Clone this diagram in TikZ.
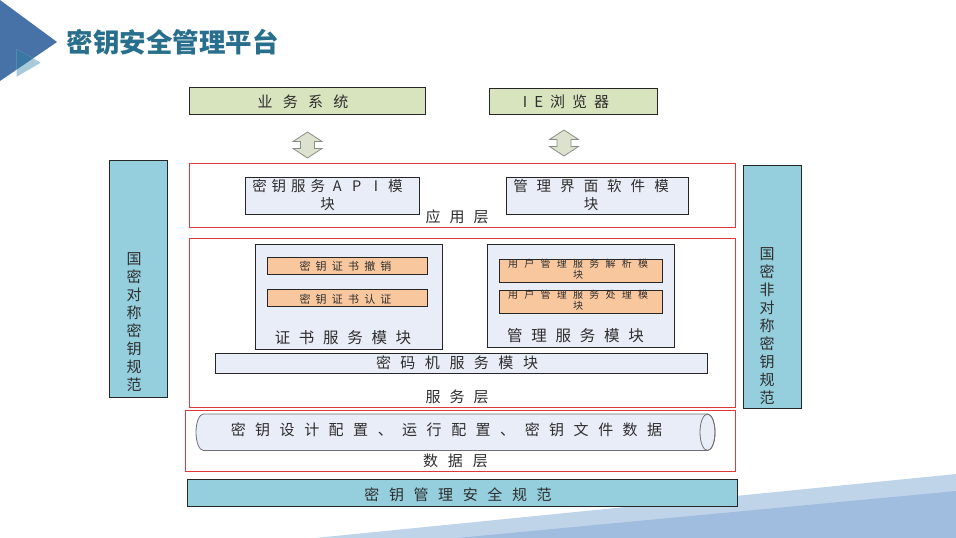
\documentclass[tikz,border=0pt]{standalone}
\usepackage{fontspec}
\setmainfont{Noto Sans CJK SC}
\definecolor{tri}{HTML}{4672A8}
\definecolor{trilight}{HTML}{A8CBD9}
\definecolor{trimid}{HTML}{3A78A3}
\definecolor{titlec}{HTML}{276F8C}
\definecolor{greenfill}{HTML}{D7E4BD}
\definecolor{modfill}{HTML}{E9EDF7}
\definecolor{peach}{HTML}{F8C79E}
\definecolor{cyanfill}{HTML}{95CEDC}
\definecolor{layerred}{HTML}{E0383C}
\definecolor{boxline}{HTML}{262626}
\definecolor{arrowfill}{HTML}{DCE2CE}
\definecolor{arrowline}{HTML}{8A8F86}
\definecolor{bglight}{HTML}{C0D4E9}
\definecolor{bgdark}{HTML}{A0BDE0}
\definecolor{txtc}{HTML}{2E2E2E}
\definecolor{cylline}{HTML}{707070}
\makeatletter
\newcommand\chpitch[2]{\@tfor\chp@c:=#2\do{\makebox[#1pt][c]{\chp@c}}}
\newcommand\chgap[2]{\def\chg@s{}\@tfor\chg@c:=#2\do{\chg@s\chg@c\def\chg@s{\hspace{#1pt}}}}
\makeatother
\tikzset{
  box/.style={draw=boxline, line width=1pt, inner sep=0pt, outer sep=0pt},
  layer/.style={draw=layerred, line width=0.9pt, inner sep=0pt, outer sep=0pt},
  txt/.style={inner sep=0pt, text=txtc, font=\fontsize{15}{18}\selectfont},
  dblarrow/.style={fill=arrowfill, draw=arrowline, line width=0.8pt, line join=miter},
}
\begin{document}
\begin{tikzpicture}[x=1pt, y=-1pt]
\useasboundingbox (0,0) rectangle (956,538);
% background decorations
\fill[tri] (0,0) -- (57,42) -- (0,81) -- cycle;
\fill[trilight] (16.7,49) -- (40.7,62.7) -- (16.7,76.7) -- cycle;
\begin{scope}
  \clip (0,0) -- (57,42) -- (0,81) -- cycle;
  \fill[trimid] (16.7,49) -- (40.7,62.7) -- (16.7,76.7) -- cycle;
\end{scope}
\fill[bglight] (315,538) -- (956,474) -- (956,538) -- cycle;
\fill[bgdark] (457,538) -- (956,491) -- (956,538) -- cycle;
% title
\node[anchor=west, inner sep=0pt, text=titlec, font=\fontsize{26.5}{30}\selectfont\bfseries] (title) at (66.5,42) {密钥安全管理平台};
% top boxes
\node[box, fill=greenfill, minimum width=236pt, minimum height=27pt] (biz) at (307,100.5) {};
\node[txt] (tbiz) at (303,102) {\chpitch{25.3}{业务系统}};
\node[box, fill=greenfill, minimum width=168pt, minimum height=26pt] (ie) at (573,101) {};
\node[txt] (tie) at (566,102) {\chgap{7}{IE浏览器}};
% double arrows
\begin{scope}[shift={(307.5,145)}]
  \draw[dblarrow] (0,-13) -- (14.5,-3.5) -- (7,-3.5) -- (7,3.5) -- (14.5,3.5) -- (0,13) -- (-14.5,3.5) -- (-7,3.5) -- (-7,-3.5) -- (-14.5,-3.5) -- cycle;
\end{scope}
\begin{scope}[shift={(564,143)}]
  \draw[dblarrow] (0,-13) -- (14.5,-3.5) -- (7,-3.5) -- (7,3.5) -- (14.5,3.5) -- (0,13) -- (-14.5,3.5) -- (-7,3.5) -- (-7,-3.5) -- (-14.5,-3.5) -- cycle;
\end{scope}
% application layer
\node[layer, minimum width=546pt, minimum height=64pt] (app) at (462,195) {};
\node[box, fill=modfill, minimum width=174pt, minimum height=37pt] (api) at (332,195.7) {};
\node[txt, align=center, font=\fontsize{14.5}{18}\selectfont] (tapi) at (327.5,195) {\chpitch{19.4}{密钥服务API模}\\块};
\node[box, fill=modfill, minimum width=182pt, minimum height=37pt] (ui) at (597,195.7) {};
\node[txt, align=center, font=\fontsize{14.5}{18}\selectfont] (tui) at (591,195) {\chpitch{23.5}{管理界面软件模}\\块};
\node[txt] (tapp) at (457,217) {\chpitch{24}{应用层}};
% service layer
\node[layer, minimum width=546pt, minimum height=169pt] (svc) at (462,322.7) {};
\node[box, fill=modfill, minimum width=187pt, minimum height=105pt] (cert) at (348.5,296.5) {};
\node[box, fill=peach, minimum width=160.5pt, minimum height=17pt] (revoke) at (347.7,265.6) {};
\node[txt, font=\fontsize{11}{13}\selectfont] (trevoke) at (345.5,266) {\chpitch{16.2}{密钥证书撤销}};
\node[box, fill=peach, minimum width=160.5pt, minimum height=16.7pt] (auth) at (347.7,298.3) {};
\node[txt, font=\fontsize{11}{13}\selectfont] (tauth) at (345.5,299) {\chpitch{16.2}{密钥证书认证}};
\node[txt, font=\fontsize{15.5}{18}\selectfont] (tcert) at (343,338) {\chpitch{24.2}{证书服务模块}};
\node[box, fill=modfill, minimum width=187.6pt, minimum height=103pt] (mgmt) at (580.8,295.5) {};
\node[box, fill=peach, minimum width=163pt, minimum height=23.3pt] (parse) at (580.5,270.7) {};
\node[txt, align=center, font=\fontsize{10}{11}\selectfont] (tparse) at (578,269.5) {\chpitch{16.25}{用户管理服务解析模}\\块};
\node[box, fill=peach, minimum width=163pt, minimum height=23.3pt] (proc) at (580.5,301.7) {};
\node[txt, align=center, font=\fontsize{10}{11}\selectfont] (tproc) at (578,300.5) {\chpitch{16.25}{用户管理服务处理模}\\块};
\node[txt, font=\fontsize{15.5}{18}\selectfont] (tmgmt) at (575.5,336) {\chpitch{24.3}{管理服务模块}};
\node[box, fill=modfill, minimum width=491.5pt, minimum height=20pt] (hsm) at (461.7,363.3) {};
\node[txt] (thsm) at (457,363) {\chpitch{24.5}{密码机服务模块}};
\node[txt] (tsvc) at (457,397) {\chpitch{24}{服务层}};
% data layer
\node[layer, minimum width=550pt, minimum height=61pt] (data) at (460,440.5) {};
\filldraw[fill=modfill, draw=cylline, line width=0.8pt] (203.5,414) -- (707.5,414)
  arc[start angle=90, end angle=-90, x radius=7.5pt, y radius=18.25pt]
  -- (203.5,450.5)
  arc[start angle=-90, end angle=-270, x radius=7.5pt, y radius=18.25pt] -- cycle;
\draw[draw=cylline, line width=0.8pt] (707.5,432.25) ellipse [x radius=7.5pt, y radius=18.25pt];
\node[txt] (tcyl) at (446.5,430) {\chpitch{24.5}{密钥设计配置、运行配置、密钥文件数据}};
\node[txt] (tdata) at (455.5,461) {\chpitch{25}{数据层}};
% standards
\node[box, fill=cyanfill, minimum width=550pt, minimum height=27pt] (std) at (462,492.5) {};
\node[txt] (tstd) at (458,495) {\chpitch{24.6}{密钥管理安全规范}};
\node[box, fill=cyanfill, minimum width=57.5pt, minimum height=237pt] (left) at (138.7,278.5) {};
\node[txt, align=center] (tleft) at (134,322) {国\\密\\对\\称\\密\\钥\\规\\范};
\node[box, fill=cyanfill, minimum width=58pt, minimum height=243pt] (right) at (772,286.5) {};
\node[txt, align=center] (tright) at (767,326) {国\\密\\非\\对\\称\\密\\钥\\规\\范};
\end{tikzpicture}
\end{document}
